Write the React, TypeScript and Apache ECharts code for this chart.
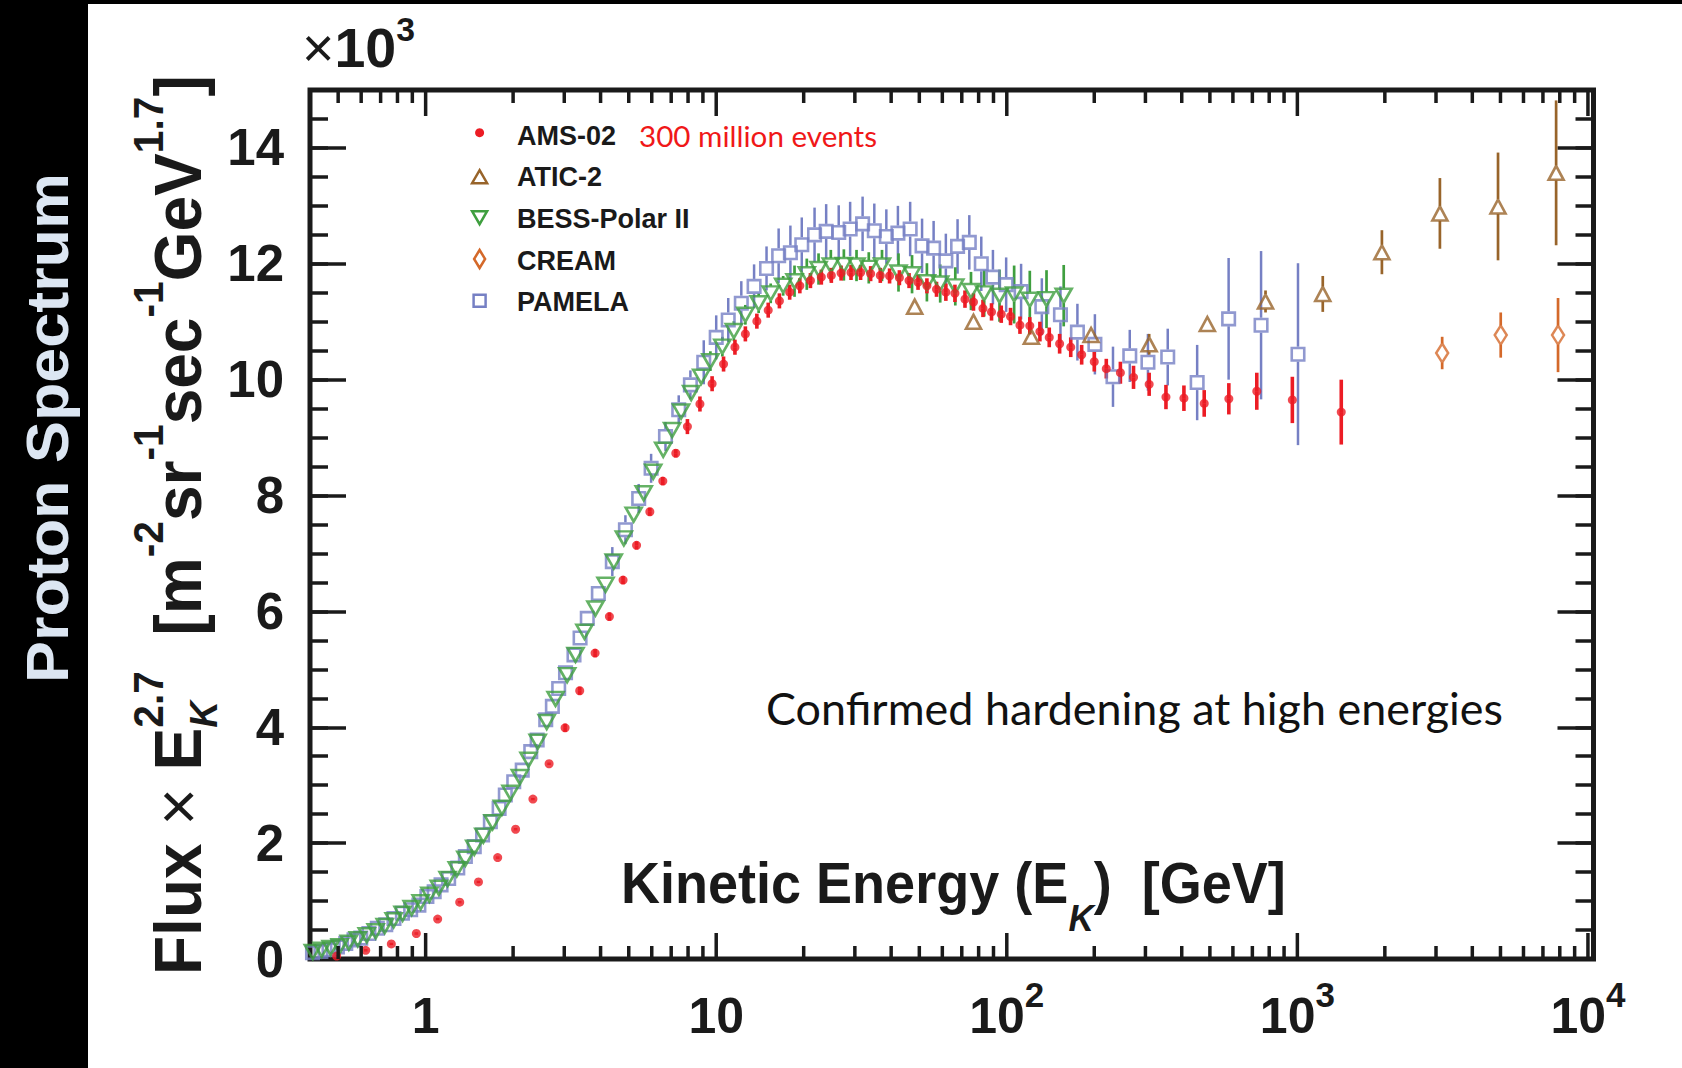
import React, { useEffect, useRef } from "react";
import * as echarts from "echarts";

const INK = "#1a1a1a";
const SANS = "'Liberation Sans', Arial, Helvetica, sans-serif";
const HUMAN = "Lato, 'Open Sans', sans-serif";

const AMS_RED = "#ec1c24";
const ATIC_BROWN = "#98642a";
const BESS_GREEN = "#3f9f3f";
const CREAM_ORANGE = "#d4692a";
const PAMELA_BLUE = "#7680c4";

// Axis ticks (kinetic energy in GeV, flux in units of 10^3)
const xMajorTicks = [1, 10, 100, 1000, 10000];
const xMinorTicks = [
  0.5, 0.6, 0.7, 0.8, 0.9,
  2, 3, 4, 5, 6, 7, 8, 9,
  20, 30, 40, 50, 60, 70, 80, 90,
  200, 300, 400, 500, 600, 700, 800, 900,
  2000, 3000, 4000, 5000, 6000, 7000, 8000, 9000,
];
const xTickLabels = [
  { value: 1, base: "1", exp: "" },
  { value: 10, base: "10", exp: "" },
  { value: 100, base: "10", exp: "2" },
  { value: 1000, base: "10", exp: "3" },
  { value: 10000, base: "10", exp: "4" },
];

// AMS-02
const amsEnergy = [
  0.494, 0.622, 0.762, 0.929, 1.1, 1.31, 1.52, 1.77, 2.04, 2.34, 2.66, 3.02, 3.39, 3.83, 4.29, 4.78,
  5.32, 5.91, 6.55, 7.26, 7.96, 8.79, 9.68, 10.6, 11.6, 12.6, 13.8, 15.1, 16.5, 17.9, 19.4, 21.1,
  23.0, 24.9, 26.9, 29.1, 31.4, 34.0, 36.7, 39.5, 42.7, 46.1, 49.5, 53.1, 57.3, 61.7, 66.3, 71.8,
  76.8, 82.8, 88.6, 95.7, 103, 111, 120, 130, 140, 152, 166, 181, 200, 220, 246, 273, 309, 353,
  407, 478, 581, 725, 961, 1416,
];
const amsFlux = [
  0.05, 0.15, 0.26, 0.44, 0.69, 0.98, 1.33, 1.75, 2.24, 2.76, 3.37, 3.99, 4.63, 5.28, 5.91, 6.54,
  7.14, 7.72, 8.25, 8.73, 9.19, 9.58, 9.93, 10.27, 10.56, 10.79, 11.01, 11.2, 11.36, 11.51, 11.62, 11.71,
  11.77, 11.8, 11.84, 11.85, 11.85, 11.83, 11.8, 11.79, 11.76, 11.71, 11.68, 11.62, 11.56, 11.51, 11.49, 11.39,
  11.34, 11.23, 11.17, 11.13, 11.09, 10.94, 10.93, 10.83, 10.73, 10.62, 10.56, 10.43, 10.31, 10.19, 10.12, 10.04,
  9.92, 9.7, 9.68, 9.59, 9.67, 9.8, 9.65, 9.44,
];
const amsErr = [
  0.02, 0.02, 0.02, 0.02, 0.02, 0.02, 0.02, 0.02, 0.02, 0.02, 0.02, 0.07, 0.07, 0.07, 0.07, 0.07,
  0.07, 0.07, 0.07, 0.07, 0.13, 0.13, 0.13, 0.13, 0.13, 0.13, 0.13, 0.13, 0.13, 0.13, 0.13, 0.13,
  0.13, 0.13, 0.13, 0.13, 0.13, 0.13, 0.13, 0.13, 0.13, 0.13, 0.13, 0.13, 0.13, 0.15, 0.15, 0.15,
  0.15, 0.15, 0.15, 0.15, 0.15, 0.15, 0.15, 0.17, 0.17, 0.17, 0.17, 0.17, 0.17, 0.17, 0.19, 0.2,
  0.2, 0.21, 0.22, 0.23, 0.27, 0.32, 0.4, 0.56,
];

// ATIC-2
const aticEnergy = [48.2, 76.8, 121.5, 195, 309, 490, 777, 1223, 1954, 3094, 4904, 7771];
const aticFlux = [11.26, 11.0, 10.74, 10.77, 10.61, 10.96, 11.35, 11.48, 12.2, 12.87, 12.99, 13.57];
const aticErr = [0.1, 0.1, 0.1, 0.1, 0.18, 0.1, 0.19, 0.31, 0.38, 0.61, 0.93, 1.25];

// BESS-Polar II
const bessEnergy = [
  0.409, 0.439, 0.471, 0.506, 0.544, 0.584, 0.627, 0.673, 0.723, 0.776, 0.833, 0.895, 0.961, 1.03,
  1.11, 1.19, 1.28, 1.37, 1.47, 1.58, 1.7, 1.83, 1.96, 2.11, 2.26, 2.43, 2.61, 2.8, 3.07, 3.28,
  3.52, 3.84, 4.16, 4.44, 4.81, 5.2, 5.63, 6.07, 6.57, 7.05, 7.57, 8.2, 8.88, 9.55, 10.5, 11.5,
  12.6, 14.0, 15.4, 17.0, 18.6, 20.5, 22.5, 24.8, 27.5, 30.4, 33.5, 37.2, 42.4, 47.2, 53.1, 59.0,
  66.5, 75.3, 83.6, 94.4, 106, 120, 137, 157,
];
const bessFlux = [
  0.12, 0.16, 0.19, 0.22, 0.28, 0.34, 0.41, 0.48, 0.57, 0.67, 0.78, 0.88, 0.98, 1.11,
  1.23, 1.38, 1.55, 1.73, 1.92, 2.13, 2.36, 2.61, 2.87, 3.14, 3.44, 3.75, 4.09, 4.49, 4.9, 5.25,
  5.65, 6.05, 6.46, 6.86, 7.26, 7.67, 8.04, 8.41, 8.79, 9.13, 9.45, 9.77, 10.05, 10.32, 10.57, 10.84,
  11.12, 11.32, 11.49, 11.62, 11.7, 11.82, 11.91, 11.97, 11.98, 11.97, 11.93, 11.97, 11.85, 11.82, 11.68, 11.66,
  11.61, 11.53, 11.49, 11.45, 11.47, 11.38, 11.39, 11.45,
];
const bessErr = [
  0.02, 0.02, 0.02, 0.02, 0.02, 0.02, 0.02, 0.02, 0.02, 0.02, 0.02, 0.02, 0.02, 0.02,
  0.02, 0.02, 0.02, 0.02, 0.02, 0.02, 0.02, 0.02, 0.02, 0.02, 0.02, 0.02, 0.02, 0.02, 0.1, 0.1,
  0.1, 0.1, 0.1, 0.1, 0.1, 0.1, 0.1, 0.1, 0.1, 0.1, 0.1, 0.1, 0.1, 0.17, 0.17, 0.17,
  0.17, 0.17, 0.17, 0.17, 0.27, 0.27, 0.27, 0.27, 0.27, 0.27, 0.27, 0.27, 0.33, 0.33, 0.33, 0.33,
  0.33, 0.33, 0.4, 0.45, 0.5, 0.5, 0.5, 0.53,
];

// CREAM
const creamEnergy = [3150, 5010, 7890];
const creamFlux = [10.46, 10.77, 10.77];
const creamErr = [0.28, 0.39, 0.64];

// PAMELA
const pamelaEnergy = [
  0.408, 0.436, 0.465, 0.497, 0.531, 0.567, 0.598, 0.638, 0.682, 0.729, 0.778, 0.832, 0.888, 0.948,
  1.01, 1.07, 1.13, 1.2, 1.29, 1.37, 1.47, 1.57, 1.67, 1.79, 1.88, 2.01, 2.15, 2.3, 2.42, 2.59,
  2.73, 2.87, 3.03, 3.24, 3.4, 3.6, 3.93, 4.39, 4.87, 5.41, 5.97, 6.69, 7.43, 8.15, 9.06, 10.0,
  11.0, 12.2, 13.5, 14.9, 16.4, 18.0, 19.7, 21.8, 23.9, 26.4, 28.9, 31.9, 35.0, 38.5, 42.2, 46.5,
  51.1, 56.0, 61.7, 67.7, 74.3, 81.7, 89.6, 99.5, 112, 132, 153, 175, 201, 232, 265, 306,
  358, 452, 580, 750, 1005,
];
const pamelaFlux = [
  0.11, 0.13, 0.16, 0.21, 0.27, 0.33, 0.36, 0.44, 0.53, 0.59, 0.7, 0.79, 0.85, 0.93,
  1.08, 1.16, 1.28, 1.39, 1.57, 1.77, 1.94, 2.14, 2.37, 2.6, 2.83, 3.06, 3.26, 3.58, 3.78, 4.13,
  4.36, 4.67, 4.94, 5.25, 5.54, 5.88, 6.31, 6.86, 7.41, 7.95, 8.47, 9.02, 9.48, 9.91, 10.3, 10.73,
  11.03, 11.32, 11.61, 11.92, 12.14, 12.19, 12.33, 12.5, 12.56, 12.54, 12.6, 12.69, 12.57, 12.47, 12.53, 12.6,
  12.31, 12.27, 12.05, 12.3, 12.37, 12.0, 11.77, 11.64, 11.52, 11.26, 11.12, 10.82, 10.61, 10.05, 10.41, 10.3,
  10.39, 9.95, 11.05, 10.94, 10.44,
];
const pamelaErr = [
  0.03, 0.03, 0.03, 0.03, 0.03, 0.03, 0.03, 0.03, 0.03, 0.03, 0.03, 0.03, 0.03, 0.03,
  0.03, 0.03, 0.03, 0.03, 0.03, 0.03, 0.03, 0.03, 0.03, 0.03, 0.03, 0.12, 0.12, 0.12, 0.12, 0.12,
  0.12, 0.12, 0.12, 0.12, 0.12, 0.12, 0.12, 0.25, 0.25, 0.25, 0.25, 0.25, 0.25, 0.25, 0.38, 0.38,
  0.38, 0.38, 0.38, 0.38, 0.47, 0.47, 0.47, 0.47, 0.47, 0.47, 0.47, 0.47, 0.47, 0.47, 0.47, 0.47,
  0.47, 0.47, 0.47, 0.47, 0.47, 0.47, 0.47, 0.47, 0.48, 0.49, 0.49, 0.49, 0.52, 0.52, 0.45, 0.49,
  0.49, 0.65, 1.05, 1.28, 1.57,
];

type Piece = { t?: string; size?: number; normal?: boolean; it?: boolean; dy?: number; fam?: string; stack?: Piece[] };

const measureCtx = document.createElement("canvas").getContext("2d") as CanvasRenderingContext2D;

function fontOf(p: Piece) {
  return `${p.it ? "italic " : ""}${p.normal ? "normal" : "bold"} ${p.size}px ${p.fam ?? SANS}`;
}

function widthOf(p: Piece) {
  measureCtx.font = fontOf(p);
  return measureCtx.measureText(p.t ?? "").width;
}

// Lay out text runs (with super/subscripts) left to right, baseline at local y = 0
function textRun(
  pieces: Piece[],
  opt: { x: number; y: number; color: string; rotation?: number; width?: number; center?: boolean }
) {
  const children: any[] = [];
  let cursor = 0;
  const put = (p: Piece, x0: number) => {
    const central = (p.fam ?? SANS) === HUMAN ? 0.39 : 0.35;
    children.push({
      type: "text",
      silent: true,
      style: {
        text: p.t,
        x: x0,
        y: (p.dy ?? 0) - central * (p.size as number),
        font: fontOf(p),
        fill: opt.color,
        align: "left",
        textAlign: "left",
        verticalAlign: "middle",
        textVerticalAlign: "middle",
      },
    });
    return widthOf(p);
  };
  for (const p of pieces) {
    if (p.stack) {
      let w = 0;
      for (const q of p.stack) w = Math.max(w, put(q, cursor));
      cursor += w;
    } else {
      cursor += put(p, cursor);
    }
  }
  const sx = opt.width ? opt.width / cursor : 1;
  const shift = opt.center ? -(cursor * sx) / 2 : 0;
  return {
    type: "group",
    silent: true,
    x: opt.x + shift,
    y: opt.y,
    rotation: opt.rotation ?? 0,
    scaleX: sx,
    children,
  };
}

function errorBars(energy: number[], flux: number[], err: number[], color: string, lw: number, gap: number) {
  return {
    type: "custom",
    silent: true,
    z: 3,
    data: energy.map((e, i) => [e, flux[i], err[i]]),
    encode: { x: 0, y: 1 },
    renderItem: (_params: any, api: any) => {
      const e = api.value(0);
      const v = api.value(1);
      const d = api.value(2);
      const c = api.coord([e, v]);
      const hi = api.coord([e, v + d])[1];
      const lo = api.coord([e, v - d])[1];
      const style = { stroke: color, lineWidth: lw };
      const children: any[] = [];
      if (c[1] - gap > hi) children.push({ type: "line", shape: { x1: c[0], y1: hi, x2: c[0], y2: c[1] - gap }, style });
      if (lo > c[1] + gap) children.push({ type: "line", shape: { x1: c[0], y1: c[1] + gap, x2: c[0], y2: lo }, style });
      return { type: "group", children };
    },
  };
}

function markers(energy: number[], flux: number[], symbol: string, size: any, color: string, filled: boolean, rotate = 0) {
  return {
    type: "scatter",
    silent: true,
    z: 4,
    symbol,
    symbolSize: size,
    symbolRotate: rotate,
    data: energy.map((e, i) => [e, flux[i]]),
    itemStyle: filled
      ? { color, borderWidth: 0 }
      : { color: "rgba(0,0,0,0)", borderColor: color, borderWidth: 2.6 },
  };
}

function tickSeries() {
  const data = [...xMajorTicks.map((v) => [v, 0, 26]), ...xMinorTicks.map((v) => [v, 0, 13])];
  return {
    type: "custom",
    silent: true,
    z: 5,
    data,
    encode: { x: 0, y: 1 },
    renderItem: (_params: any, api: any) => {
      const v = api.value(0);
      const len = api.value(2);
      const b = api.coord([v, 0]);
      const t = api.coord([v, 15]);
      const style = { stroke: INK, lineWidth: 3.5 };
      return {
        type: "group",
        children: [
          { type: "line", shape: { x1: b[0], y1: b[1], x2: b[0], y2: b[1] - len }, style },
          { type: "line", shape: { x1: t[0], y1: t[1], x2: t[0], y2: t[1] + len }, style },
        ],
      };
    },
  };
}

function yAxis(position: "left" | "right", interval: number, len: number, labels: boolean) {
  return {
    type: "value",
    min: 0,
    max: 15,
    interval,
    position,
    axisLine: { show: false },
    splitLine: { show: false },
    axisTick: { show: true, inside: true, length: len, lineStyle: { color: INK, width: 3.5 } },
    axisLabel: labels
      ? {
          show: true,
          margin: 26,
          fontSize: 51,
          fontWeight: "bold",
          fontFamily: SANS,
          color: INK,
          formatter: (v: number) => (v > 14 ? "" : String(v)),
        }
      : { show: false },
  };
}

function buildOption() {
  return {
    animation: false,
    backgroundColor: "#ffffff",
    textStyle: { fontFamily: SANS },
    grid: {
      left: 310,
      top: 90,
      width: 1283.5,
      height: 869,
      show: true,
      borderColor: INK,
      borderWidth: 5,
      backgroundColor: "rgba(0,0,0,0)",
    },
    xAxis: {
      type: "log",
      logBase: 10,
      min: 0.4,
      max: 10450,
      axisLine: { show: false },
      axisTick: { show: false },
      axisLabel: { show: false },
      splitLine: { show: false },
    },
    yAxis: [
      yAxis("left", 2, 36, true),
      yAxis("left", 0.5, 18, false),
      yAxis("right", 2, 36, false),
      yAxis("right", 0.5, 18, false),
    ],
    series: [
      tickSeries(),
      errorBars(pamelaEnergy, pamelaFlux, pamelaErr, PAMELA_BLUE, 2.5, 7.5),
      markers(pamelaEnergy, pamelaFlux, "rect", 12.5, PAMELA_BLUE, false),
      errorBars(bessEnergy, bessFlux, bessErr, BESS_GREEN, 2.7, 7.5),
      markers(bessEnergy, bessFlux, "triangle", [16, 14], BESS_GREEN, false, 180),
      errorBars(aticEnergy, aticFlux, aticErr, ATIC_BROWN, 2.7, 7.5),
      markers(aticEnergy, aticFlux, "triangle", [15, 14], ATIC_BROWN, false),
      errorBars(creamEnergy, creamFlux, creamErr, CREAM_ORANGE, 2.7, 9.5),
      markers(creamEnergy, creamFlux, "diamond", [12, 19], CREAM_ORANGE, false),
      errorBars(amsEnergy, amsFlux, amsErr, AMS_RED, 3.6, 0),
      markers(amsEnergy, amsFlux, "circle", 9, AMS_RED, true),
    ],
  };
}

function buildGraphics(chart: echarts.ECharts) {
  const g: any[] = [];

  // dark side panel and top rule
  g.push({ type: "rect", silent: true, shape: { x: 0, y: 0, width: 88, height: 1068 }, style: { fill: "#000" } });
  g.push({ type: "rect", silent: true, shape: { x: 0, y: 0, width: 1682, height: 4 }, style: { fill: "#000" } });
  g.push(
    textRun([{ t: "Proton Spectrum", size: 60 }], {
      x: 68,
      y: 683,
      rotation: Math.PI / 2,
      width: 510,
      color: "#dce6f2",
    })
  );

  // y-axis title
  const sup = (t: string): Piece => ({ t, size: 42, dy: -38 });
  g.push(
    textRun(
      [
        { t: "Flux ", size: 66 },
        { t: "×", size: 66, normal: true },
        { t: " E", size: 66 },
        { stack: [{ t: "2.7", size: 42, dy: -38 }, { t: "K", size: 38, it: true, dy: 16 }] },
        { t: "  [m", size: 66 },
        sup("-2"),
        { t: "sr", size: 66 },
        sup("-1"),
        { t: "sec", size: 66 },
        sup("-1"),
        { t: "GeV", size: 66 },
        sup("1.7"),
        { t: "]", size: 66 },
      ],
      { x: 201, y: 975, rotation: Math.PI / 2, width: 900, color: INK }
    )
  );

  // axis multiplier
  g.push(
    textRun(
      [
        { t: "×", size: 56, normal: true },
        { t: "10", size: 56 },
        { t: "3", size: 34, dy: -27 },
      ],
      { x: 302, y: 68, width: 113, color: INK }
    )
  );

  // x-axis title
  g.push(
    textRun(
      [
        { t: "Kinetic Energy (E", size: 57 },
        { t: "K", size: 37, it: true, dy: 28 },
        { t: ")  [GeV]", size: 57 },
      ],
      { x: 621, y: 903, width: 665, color: INK }
    )
  );

  // x tick labels positioned through the log axis
  for (const lab of xTickLabels) {
    const px = chart.convertToPixel({ gridIndex: 0 }, [lab.value, 1]) as number[];
    const pieces: Piece[] = [{ t: lab.base, size: 50 }];
    if (lab.exp) pieces.push({ t: lab.exp, size: 35, dy: -26 });
    g.push(textRun(pieces, { x: px[0], y: 1033, center: true, color: INK }));
  }

  // legend
  const lx = 479.6;
  g.push({ type: "circle", silent: true, shape: { cx: lx, cy: 132.7, r: 4.5 }, style: { fill: AMS_RED } });
  g.push({
    type: "polygon",
    silent: true,
    shape: { points: [[lx, 170.2], [lx + 7.5, 183.2], [lx - 7.5, 183.2]] },
    style: { fill: "none", stroke: ATIC_BROWN, lineWidth: 2.5 },
  });
  g.push({
    type: "polygon",
    silent: true,
    shape: { points: [[lx - 7.5, 211.2], [lx + 7.5, 211.2], [lx, 224.2]] },
    style: { fill: "none", stroke: BESS_GREEN, lineWidth: 2.5 },
  });
  g.push({
    type: "polygon",
    silent: true,
    shape: { points: [[lx, 250], [lx + 5.5, 259], [lx, 268], [lx - 5.5, 259]] },
    style: { fill: "none", stroke: CREAM_ORANGE, lineWidth: 2.5 },
  });
  g.push({
    type: "rect",
    silent: true,
    shape: { x: lx - 6, y: 294.7, width: 12, height: 12 },
    style: { fill: "none", stroke: PAMELA_BLUE, lineWidth: 2.5 },
  });
  const legendNames = ["AMS-02", "ATIC-2", "BESS-Polar II", "CREAM", "PAMELA"];
  const legendBase = [145, 186.7, 228.3, 270, 311.7];
  legendNames.forEach((name, i) => {
    g.push(textRun([{ t: name, size: 27 }], { x: 517, y: legendBase[i], color: INK }));
  });

  g.push(
    textRun([{ t: "300 million events", size: 29, normal: true, fam: HUMAN }], {
      x: 639,
      y: 147,
      width: 238,
      color: "#f01818",
    })
  );
  g.push(
    textRun([{ t: "Confirmed hardening at high energies", size: 44, normal: true, fam: HUMAN }], {
      x: 766,
      y: 725,
      width: 737,
      color: "#111",
    })
  );
  return g;
}

export default function App() {
  const ref = useRef<HTMLDivElement>(null);
  useEffect(() => {
    const chart = echarts.init(ref.current as HTMLDivElement, undefined, { renderer: "svg" });
    chart.setOption(buildOption() as any);
    chart.setOption({ graphic: buildGraphics(chart) } as any);
    return () => chart.dispose();
  }, []);
  return (
    <div
      ref={ref}
      style={{ position: "fixed", left: 0, top: 0, width: 1682, height: 1068, background: "#ffffff" }}
    />
  );
}
